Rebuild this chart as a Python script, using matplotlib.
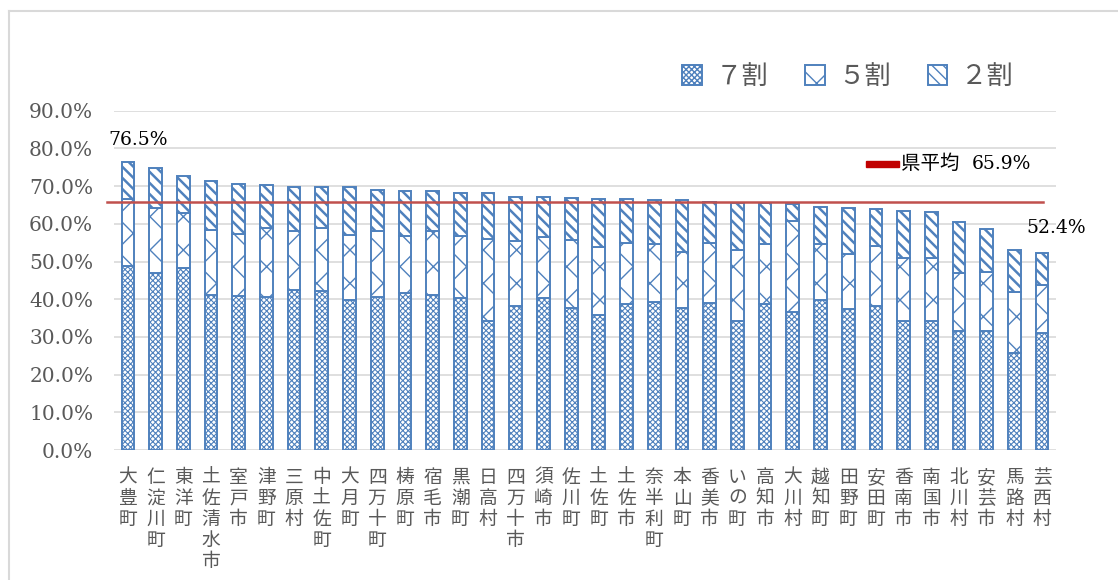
import matplotlib.pyplot as plt
from matplotlib.ticker import PercentFormatter, MultipleLocator
from matplotlib.patches import Rectangle

plt.rcParams['font.family'] = ['Noto Sans CJK JP', 'DejaVu Sans']

towns = ['大豊町', '仁淀川町', '東洋町', '土佐清水市', '室戸市', '津野町', '三原村',
         '中土佐町', '大月町', '四万十町', '梼原町', '宿毛市', '黒潮町', '日高村',
         '四万十市', '須崎市', '佐川町', '土佐町', '土佐市', '奈半利町', '本山町',
         '香美市', 'いの町', '高知市', '大川村', '越知町', '田野町', '安田町',
         '香南市', '南国市', '北川村', '安芸市', '馬路村', '芸西村']

# 7割 / 5割 / 2割 (%)
r7 = [48.7, 46.9, 48.4, 41.1, 40.9, 40.5, 42.5, 42.3, 39.8, 40.7, 41.6, 41.1,
      40.4, 34.2, 38.1, 40.3, 37.8, 35.7, 38.7, 39.4, 37.6, 38.9, 34.2, 38.7,
      36.5, 39.8, 37.3, 38.1, 34.2, 34.2, 31.6, 31.6, 25.8, 31.0]
r5 = [17.8, 17.4, 14.4, 17.3, 16.4, 18.5, 15.6, 16.7, 17.3, 17.4, 15.2, 17.0,
      16.4, 21.8, 17.4, 16.2, 17.8, 18.1, 16.2, 15.2, 15.0, 16.0, 18.9, 16.0,
      24.3, 14.8, 14.6, 16.1, 16.7, 16.7, 15.3, 15.7, 16.1, 12.8]
r2 = [10.0, 10.6, 9.8, 12.9, 13.4, 11.3, 11.7, 10.8, 12.6, 11.0, 12.0, 10.7,
      11.5, 12.3, 11.7, 10.7, 11.3, 12.9, 11.6, 11.8, 13.8, 10.9, 12.4, 10.8,
      4.5, 10.0, 12.3, 9.7, 12.4, 12.2, 13.7, 11.3, 11.1, 8.6]
pref_avg = 65.9
max_label = '76.5%'
min_label = '52.4%'

blue = '#4F81BD'
gray = '#595959'
serif = ['DejaVu Serif']

fig = plt.figure(figsize=(11.18, 5.80), dpi=100)
ax = fig.add_axes([0.102, 0.224, 0.8425, 0.585])

x = list(range(len(towns)))
bottom2 = [a + b for a, b in zip(r7, r5)]
w = 0.46
with plt.rc_context({'hatch.linewidth': 0.8}):
    b7 = ax.bar(x, r7, w, color='white', edgecolor=blue, hatch='xxxxxx', linewidth=1.4, label='７割')
with plt.rc_context({'hatch.linewidth': 1.0}):
    b5 = ax.bar(x, r5, w, bottom=r7, color='white', edgecolor=blue, hatch='x', linewidth=1.4, label='５割')
with plt.rc_context({'hatch.linewidth': 1.8}):
    b2 = ax.bar(x, r2, w, bottom=bottom2, color='white', edgecolor=blue, hatch='\\\\\\', linewidth=1.4, label='２割')

ax.plot([-0.76, 33.03], [pref_avg, pref_avg], color='#C0504D', lw=1.8, clip_on=False, zorder=3)

ax.set_xlim(-0.5, len(towns) - 0.5)
ax.set_ylim(0, 90)
ax.yaxis.set_major_locator(MultipleLocator(10))
ax.yaxis.set_major_formatter(PercentFormatter(100, decimals=1))
ax.grid(axis='y', color='#D9D9D9', lw=1.2)
ax.set_axisbelow(True)
for s in ax.spines.values():
    s.set_visible(False)
ax.tick_params(length=0)
ax.tick_params(axis='y', pad=15, labelcolor=gray, labelsize=14.5)
for t in ax.get_yticklabels():
    t.set_family(serif)

ax.set_xticks(x)
ax.set_xticklabels(['\n'.join(t) for t in towns], fontsize=13.5, color=gray,
                   linespacing=1.0, va='top')
ax.tick_params(axis='x', pad=12)

ax.text(0.36, 82.2, max_label, ha='center', va='center', fontsize=13.5, family=serif,
        color='black', clip_on=False)
ax.text(33.5, 58.9, min_label, ha='center', va='center', fontsize=13.5, family=serif,
        color='black', clip_on=False)

# 県平均 label
ax.add_patch(Rectangle((26.65, 75.1), 1.2, 1.6, color='#C00000', clip_on=False))
ax.text(27.9, 75.9, '県平均', ha='left', va='center', fontsize=14, color='black')
ax.text(30.45, 75.9, '65.9%', ha='left', va='center', fontsize=13.5, family=serif, color='black')

leg = ax.legend(handles=[b7, b5, b2], loc='center right', bbox_to_anchor=(0.98, 1.1),
                ncol=3, frameon=False, fontsize=19, handlelength=0.75, handleheight=0.75,
                handletextpad=0.5, columnspacing=1.4, labelcolor=gray)

# outer chart frame (left and top visible)
fig.add_artist(plt.Line2D([0.008, 0.008], [0.0, 0.981], color='#D9D9D9', lw=1.5))
fig.add_artist(plt.Line2D([0.008, 1.0], [0.981, 0.981], color='#D9D9D9', lw=1.5))

fig.savefig('out.png', dpi=100)
